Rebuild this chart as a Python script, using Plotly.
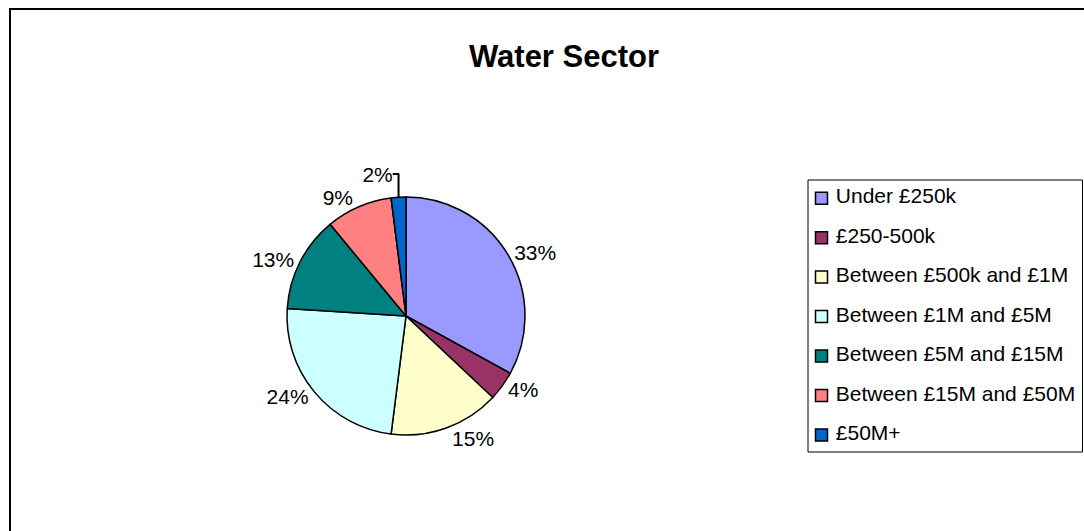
import plotly.graph_objects as go

categories = [
    "Under £250k",
    "£250-500k",
    "Between £500k and £1M",
    "Between £1M and £5M",
    "Between £5M and £15M",
    "Between £15M and £50M",
    "£50M+",
]
shares = [33, 4, 15, 24, 13, 9, 2]
colors = ["#9999FF", "#993366", "#FFFFCC", "#CCFFFF", "#008080", "#FF8080", "#0066CC"]

W, H = 1084, 531
FONT = "Liberation Sans, Arial, sans-serif"


def px(x):
    return x / W


def py(y):
    return 1 - y / H


fig = go.Figure()

fig.add_trace(
    go.Pie(
        labels=categories,
        values=shares,
        sort=False,
        direction="clockwise",
        rotation=0,
        marker=dict(colors=colors, line=dict(color="black", width=1.5)),
        textinfo="percent",
        texttemplate="%{percent:.0%}",
        textposition="outside",
        textfont=dict(family=FONT, size=21, color="black"),
        domain=dict(x=[px(287), px(525)], y=[py(435), py(197)]),
        showlegend=False,
        hoverinfo="label+percent",
    )
)

# legend drawn as a scatter on its own hidden axes
fig.add_trace(
    go.Scatter(
        x=[0] * len(categories),
        y=categories,
        mode="markers+text",
        marker=dict(symbol="square", size=12, color=colors, line=dict(color="black", width=1.5)),
        text=categories,
        texttemplate="\u00a0%{text}",
        textposition="middle right",
        textfont=dict(family=FONT, size=21, color="black"),
        xaxis="x2",
        yaxis="y2",
        showlegend=False,
        hoverinfo="skip",
        cliponaxis=False,
    )
)

fig.update_layout(
    width=W,
    height=H,
    margin=dict(l=0, r=0, t=0, b=0),
    paper_bgcolor="white",
    plot_bgcolor="white",
    font=dict(family=FONT, color="black"),
    title=dict(
        text="<b>Water Sector</b>",
        x=px(564),
        xanchor="center",
        y=py(56),
        yanchor="middle",
        font=dict(family=FONT, size=31, color="black"),
    ),
    xaxis2=dict(
        domain=[px(808), px(1082.5)],
        range=[-13.5, 261],
        visible=False,
        fixedrange=True,
    ),
    yaxis2=dict(
        domain=[py(452), py(180)],
        type="category",
        categoryorder="array",
        categoryarray=categories,
        range=[6.43, -0.46],
        visible=False,
        fixedrange=True,
    ),
    shapes=[
        dict(
            type="rect",
            xref="paper",
            yref="paper",
            x0=px(10),
            x1=px(1100),
            y0=py(560),
            y1=py(9),
            line=dict(color="black", width=2),
            fillcolor="rgba(0,0,0,0)",
        ),
        dict(
            type="rect",
            xref="x2 domain",
            yref="y2 domain",
            x0=0,
            x1=1,
            y0=0,
            y1=1,
            line=dict(color="black", width=1),
            fillcolor="rgba(0,0,0,0)",
        ),
    ],
)

fig.write_html(
    "out.html",
    config={"displayModeBar": False},
    post_script="document.body.style.margin='0';document.body.style.overflow='hidden';",
)
